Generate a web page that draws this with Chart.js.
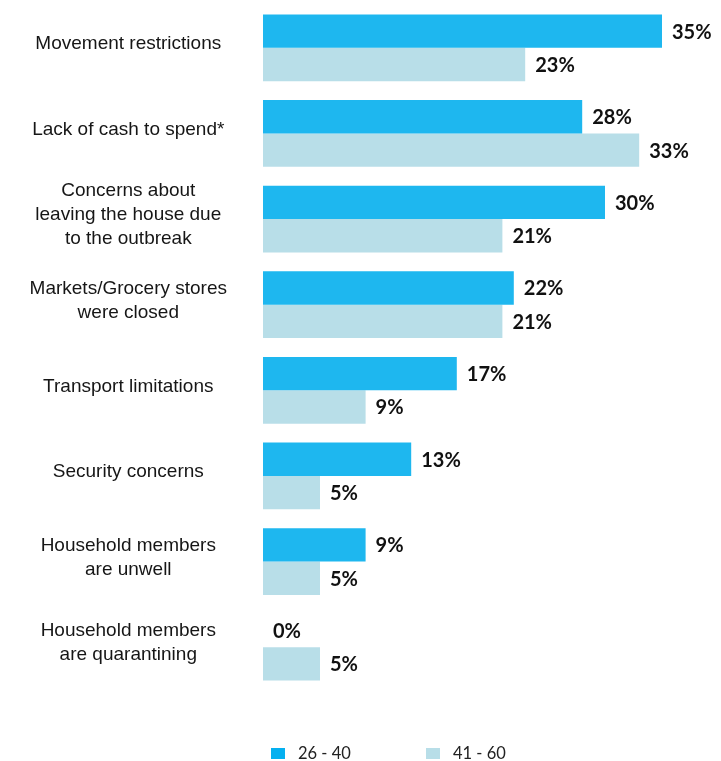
<!DOCTYPE html>
<html>
<head>
<meta charset="utf-8">
<script src="https://cdn.jsdelivr.net/npm/chart.js@4.4.1/dist/chart.umd.min.js"></script>
<style>
  html, body { margin: 0; padding: 0; background: #fff; }
  canvas { display: block; }
</style>
</head>
<body>
<canvas id="chart" width="721" height="761"></canvas>
<script>
const categories = [
  "Movement restrictions",
  "Lack of cash to spend*",
  ["Concerns about", "leaving the house due", "to the outbreak"],
  ["Markets/Grocery stores", "were closed"],
  "Transport limitations",
  "Security concerns",
  ["Household members", "are unwell"],
  ["Household members", "are quarantining"],
];
const age26to40 = [35, 28, 30, 22, 17, 13, 9, 0];
const age41to60 = [23, 33, 21, 21, 9, 5, 5, 5];
const seriesNames = ["26 - 40", "41 - 60"];

// value labels at the end of each bar
const valueLabels = {
  id: "valueLabels",
  afterDatasetsDraw(chart) {
    const ctx = chart.ctx;
    ctx.save();
    ctx.font = "bold 20px Lato";
    ctx.fillStyle = "#111";
    ctx.textAlign = "left";
    ctx.textBaseline = "middle";
    chart.data.datasets.forEach((ds, i) => {
      chart.getDatasetMeta(i).data.forEach((bar, j) => {
        ctx.fillText(ds.data[j] + "%", bar.x + 10, bar.y + 1);
      });
    });
    ctx.restore();
  },
};

// legend drawn under the plot, square swatches
const bottomLegend = {
  id: "bottomLegend",
  afterDraw(chart) {
    const ctx = chart.ctx;
    ctx.save();
    ctx.font = "16.5px Lato";
    ctx.textBaseline = "middle";
    let x = 271;
    const y = 748;
    chart.data.datasets.forEach((ds) => {
      ctx.fillStyle = ds.legendColor;
      ctx.fillRect(x, y, 14, 11);
      ctx.fillStyle = "#222";
      ctx.fillText(ds.label, x + 27, y + 5.5);
      x += 155;
    });
    ctx.restore();
  },
};

new Chart(document.getElementById("chart"), {
  type: "bar",
  data: {
    labels: categories,
    datasets: [
      {
        label: seriesNames[0],
        data: age26to40,
        backgroundColor: "#1EB7EF",
        legendColor: "#05B0F0",
        barPercentage: 1,
        categoryPercentage: 0.78,
      },
      {
        label: seriesNames[1],
        data: age41to60,
        backgroundColor: "#B8DEE8",
        legendColor: "#B8DEE8",
        barPercentage: 1,
        categoryPercentage: 0.78,
      },
    ],
  },
  options: {
    indexAxis: "y",
    responsive: false,
    animation: false,
    layout: {
      padding: { top: 5, right: 2, bottom: 71, left: 0 },
    },
    plugins: {
      legend: { display: false },
      tooltip: { enabled: false },
    },
    scales: {
      x: {
        display: false,
        min: 0,
        max: 40,
      },
      y: {
        grid: { display: false, drawTicks: false },
        border: { display: false },
        afterFit(scale) {
          scale.width = 263; //keep bars starting at the same x
          scale.paddingTop = 0; //labels sit inside the category band anyway
          scale.paddingBottom = 0;
        },
        ticks: {
          color: "#161616",
          crossAlign: "center",
          padding: 36,
          labelOffset: -4,
          font: { family: "'Liberation Sans', Arial, sans-serif", size: 19, lineHeight: 1.26 },
        },
      },
    },
  },
  plugins: [valueLabels, bottomLegend],
});
</script>
</body>
</html>
